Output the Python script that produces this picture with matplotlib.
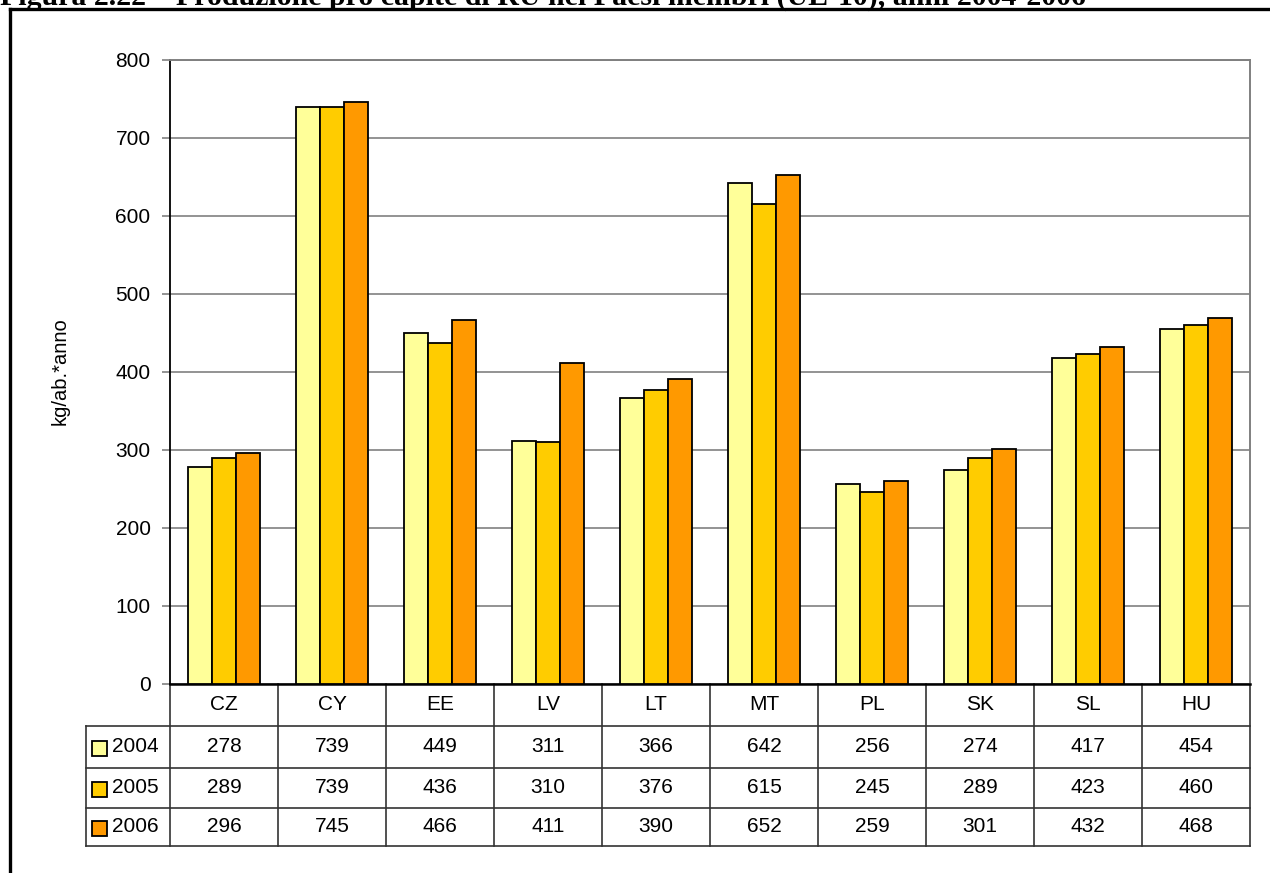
import matplotlib

matplotlib.use("Agg")
import matplotlib.pyplot as plt
from matplotlib.lines import Line2D
from matplotlib.patches import Rectangle

countries = ["CZ", "CY", "EE", "LV", "LT", "MT", "PL", "SK", "SL", "HU"]
years = ["2004", "2005", "2006"]
values_2004 = [278, 739, 449, 311, 366, 642, 256, 274, 417, 454]
values_2005 = [289, 739, 436, 310, 376, 615, 245, 289, 423, 460]
values_2006 = [296, 745, 466, 411, 390, 652, 259, 301, 432, 468]
colors = ["#FFFF99", "#FFCC00", "#FF9900"]
title = "Figura 2.22 – Produzione pro capite di RU nei Paesi membri (UE-10), anni 2004-2006"

W, H = 1270, 873
plt.rcParams["font.family"] = ["Liberation Sans", "DejaVu Sans"]

fig = plt.figure(figsize=(W / 100, H / 100), dpi=100)
ax = fig.add_axes([170 / W, 1 - 683.5 / H, 1080 / W, 624 / H])

series = [values_2004, values_2005, values_2006]
bw = 0.222
for k, vals in enumerate(series):
    xs = [i + (k - 1) * bw for i in range(len(countries))]
    ax.bar(xs, vals, width=bw, color=colors[k], edgecolor="black", linewidth=1.3, zorder=3)

ax.set_xlim(-0.5, len(countries) - 0.5)
ax.set_ylim(0, 800)
ax.set_yticks(range(0, 801, 100))
ax.set_xticks([])
ax.yaxis.grid(True, color="#808080", linewidth=1.2, zorder=0)
ax.set_axisbelow(True)
ax.tick_params(axis="y", labelsize=15, length=6, width=1.2, color="#808080", pad=8)
ax.spines["left"].set_color("black")
ax.spines["left"].set_linewidth(1.3)
ax.spines["bottom"].set_color("black")
ax.spines["bottom"].set_linewidth(1.8)
for s in ("top", "right"):
    ax.spines[s].set_color("#808080")
    ax.spines[s].set_linewidth(1.4)
ax.set_ylabel("kg/ab.*anno", fontsize=14.5, labelpad=0)
ax.yaxis.set_label_coords((70 - 170) / 1080, 0.5)

# data table below the axis (y in axes fraction, x in data units)
trans = ax.get_xaxis_transform()
rows_px = [683.5, 725.5, 767.5, 807.5, 846]
rows = [(683.5 - p) / 624 for p in rows_px]
left_x = -0.5 - 84 / 108
right_x = len(countries) - 0.5
lc = "#333333"
lw = 1.2

def hline(x0, x1, y):
    ax.add_line(Line2D([x0, x1], [y, y], transform=trans, color=lc, lw=lw, clip_on=False))

def vline(x, y0, y1):
    ax.add_line(Line2D([x, x], [y0, y1], transform=trans, color=lc, lw=lw, clip_on=False))

for y in rows[1:]:
    hline(left_x, right_x, y)
for i in range(len(countries) + 1):
    vline(i - 0.5, rows[0], rows[-1])
vline(left_x, rows[1], rows[-1])

for i, c in enumerate(countries):
    ax.text(i, (rows[0] + rows[1]) / 2, c, transform=trans, ha="center", va="center", fontsize=15)

for k, vals in enumerate(series):
    yc = (rows[k + 1] + rows[k + 2]) / 2
    for i, v in enumerate(vals):
        ax.text(i, yc, str(v), transform=trans, ha="center", va="center", fontsize=15)
    ax.text(left_x + 26 / 108, yc, years[k], transform=trans, ha="left", va="center", fontsize=15)
    sq_h = 15 / 624
    ax.add_patch(Rectangle((left_x + 6 / 108, yc - sq_h / 2 - 2 / 624), 15 / 108, sq_h, transform=trans,
                           facecolor=colors[k], edgecolor="black", lw=1.3, clip_on=False))

# outer frame of the figure and the cut-off caption above it
fig.add_artist(Line2D([10 / W, 1.0], [1 - 9 / H, 1 - 9 / H], color="black", lw=2.4))
fig.add_artist(Line2D([10 / W, 10 / W], [0, 1 - 9 / H], color="black", lw=2.4))
fig.text(0.0, 1 - 5 / H, title, ha="left", va="baseline", fontsize=21.5, fontweight="bold",
         family=["Liberation Serif", "DejaVu Serif"])

fig.savefig("out.png", dpi=100, facecolor="white")
